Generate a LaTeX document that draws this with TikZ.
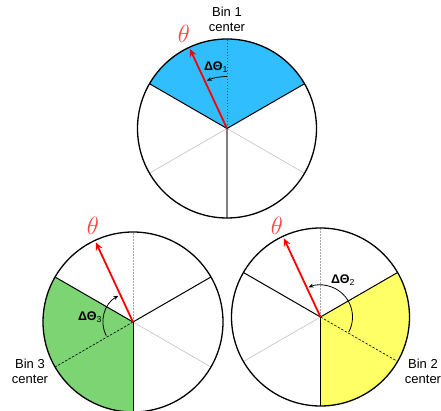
\documentclass[tikz,border=0pt]{standalone}
\usepackage{fontspec}
\setmainfont{Liberation Sans}
\usetikzlibrary{arrows.meta}
\definecolor{binblue}{RGB}{48,190,255}
\definecolor{bingreen}{RGB}{124,212,114}
\definecolor{binyellow}{RGB}{255,255,102}
\definecolor{thetared}{RGB}{255,70,70}
\begin{document}
\begin{tikzpicture}[x=1pt,y=1pt,
  rim/.style={draw=black,line width=1.3pt},
  bound/.style={draw=black,line width=1pt},
  bincenter/.style={draw=black,line width=0.6pt,dash pattern=on 2.5pt off 1.5pt},
  ghost/.style={draw=black!22,line width=0.7pt},
  dotline/.style={draw=black!35,line width=0.7pt,dash pattern=on 1.5pt off 1.5pt},
  thetaarrow/.style={draw=red,line width=1.8pt,-{Stealth[length=8pt,width=7pt]}},
  deltaarc/.style={draw=black,line width=0.8pt,-{Stealth[length=5pt,width=4pt]}},
  thetalbl/.style={text=thetared,font=\fontsize{24}{24}\selectfont},
  deltalbl/.style={font=\fontsize{12.5}{14}\selectfont},
  binlbl/.style={align=center,font=\fontsize{13}{15}\selectfont}]
\useasboundingbox (0,0) rectangle (441,411);
% centres
\coordinate (c1) at (227,282.5);
\coordinate (c3) at (133,89);
\coordinate (c2) at (320.5,94);
% ---------- top circle (bin 1)
\fill[binblue] (c1) -- ++(30:89.5) arc[start angle=30,end angle=150,radius=89.5] -- cycle;
\draw[ghost] (c1) -- ++(210:89.5);
\draw[ghost] (c1) -- ++(330:89.5);
\draw[draw=black!50,line width=1.3pt] (c1) -- ++(270:89.5);
\draw[draw=black!70,line width=0.8pt,dash pattern=on 1.5pt off 1.5pt] (c1) -- ++(90:89.5);
\draw[bound] (c1) -- ++(30:89.5);
\draw[bound] (c1) -- ++(150:89.5);
\draw[rim] (c1) circle[radius=89.5];
\draw[thetaarrow] (c1) -- ++(115:88);
\draw[deltaarc] (c1) ++(90:52) arc[start angle=90,end angle=113,radius=52];
\node[thetalbl] (t1) at (184,377.5) {$\theta$};
\node[deltalbl] (d1) at (216,343.5) {\textbf{ΔΘ}\textsubscript{1}};
\node[binlbl] (b1) at (227,392) {Bin 1\\center};
% ---------- bottom-left circle (bin 3)
\fill[bingreen] (c3) -- ++(150:90) arc[start angle=150,end angle=270,radius=90] -- cycle;
\draw[dotline] (c3) -- ++(90:90);
\draw[ghost] (c3) -- ++(330:90);
\draw[bincenter] (c3) -- ++(210:90);
\draw[bound] (c3) -- ++(30:90);
\draw[bound] (c3) -- ++(150:90);
\draw[bound] (c3) -- ++(270:90);
\draw[rim] (c3) circle[radius=90];
\draw[thetaarrow] (c3) -- ++(115:88);
\draw[deltaarc] (c3) ++(207:30) arc[start angle=207,end angle=119,radius=30];
\node[thetalbl] (t3) at (93,185) {$\theta$};
\node[deltalbl] (d3) at (90,94) {\textbf{ΔΘ}\textsubscript{3}};
\node[binlbl] (b3) at (30,40) {Bin 3\\center};
% ---------- bottom-right circle (bin 2)
\fill[binyellow] (c2) -- ++(270:89) arc[start angle=270,end angle=390,radius=89] -- cycle;
\draw[dotline] (c2) -- ++(90:89);
\draw[ghost] (c2) -- ++(210:89);
\draw[bincenter] (c2) -- ++(330:89);
\draw[bound] (c2) -- ++(30:89);
\draw[bound] (c2) -- ++(150:89);
\draw[bound] (c2) -- ++(270:89);
\draw[rim] (c2) circle[radius=89];
\draw[thetaarrow] (c2) -- ++(115:87);
\draw[deltaarc] (c2) ++(-28:32) arc[start angle=-28,end angle=112,radius=32];
\node[thetalbl] (t2) at (277,185) {$\theta$};
\node[deltalbl] (d2) at (343,131) {\textbf{ΔΘ}\textsubscript{2}};
\node[binlbl] (b2) at (423,40) {Bin 2\\center};
\end{tikzpicture}
\end{document}
